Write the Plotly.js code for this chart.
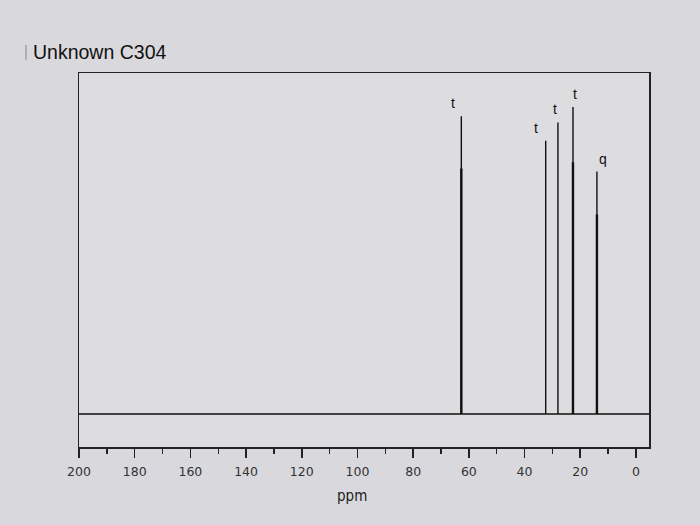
<!DOCTYPE html>
<html>
<head>
<meta charset="utf-8">
<script src="https://cdn.plot.ly/plotly-3.0.1.min.js"></script>
<style>html,body{margin:0;padding:0;background:#d9d9dd;}#chart{width:700px;height:525px;}</style>
</head>
<body>
<div id="chart"></div>
<script>
// Peak positions (ppm) and relative heights
const peakPpm = [62.7, 32.4, 28.0, 22.6, 14.0];
const peakHeights = [97, 89, 95, 100, 79];
const peakLabels = ["t", "t", "t", "t", "q"];
// Heavier lower portion of some peaks, as drawn in the picture
const thickPpm = [62.7, 22.6, 14.0];
const thickHeights = [80, 82, 65];
const tickVals = [200, 180, 160, 140, 120, 100, 80, 60, 40, 20, 0];
const tickText = ["200", "180", "160", "140", "120", "100", "80", "60", "40", "20", "0"];

const xStart = 200, xEnd = -4.7;

function stickSpectrum(ppm, h, withBase) {
  const xs = [], ys = [];
  if (withBase) { xs.push(xStart); ys.push(0); }
  for (let i = 0; i < ppm.length; i++) {
    xs.push(ppm[i], ppm[i], ppm[i]);
    ys.push(0, h[i], 0);
    if (!withBase) { xs.push(null); ys.push(null); }
  }
  if (withBase) { xs.push(xEnd); ys.push(0); }
  return {x: xs, y: ys};
}

const main = stickSpectrum(peakPpm, peakHeights, true);
const thick = stickSpectrum(thickPpm, thickHeights, false);

const traces = [
  {x: main.x, y: main.y, type: 'scatter', mode: 'lines',
   line: {color: '#111111', width: 1.4}, hoverinfo: 'skip'},
  {x: thick.x, y: thick.y, type: 'scatter', mode: 'lines',
   line: {color: '#111111', width: 2.4}, hoverinfo: 'skip', connectgaps: false}
];

const labelShift = [-8, -10, -3, 2, 6];
const annotations = peakPpm.map((p, i) => ({
  x: p, y: peakHeights[i], xref: 'x', yref: 'y', text: peakLabels[i],
  showarrow: false, yanchor: 'bottom', xanchor: 'center', yshift: 3, xshift: labelShift[i],
  font: {family: 'Liberation Sans, Arial, sans-serif', size: 14, color: '#111'}
}));
annotations.push({
  x: (xStart + 0) / 2 + 2, y: -0.13, xref: 'x', yref: 'paper', text: 'ppm',
  showarrow: false, yanchor: 'middle', xanchor: 'center',
  font: {family: 'DejaVu Sans Condensed, DejaVu Sans, sans-serif', size: 15, color: '#222'}
});

const layout = {
  width: 700, height: 525,
  paper_bgcolor: '#d9d9dd', plot_bgcolor: '#dddde0',
  margin: {l: 79, r: 51, t: 73, b: 78},
  showlegend: false,
  title: {text: 'Unknown C304', x: 33 / 700, xanchor: 'left', xref: 'container',
          y: 1 - 52 / 525, yanchor: 'middle', yref: 'container',
          font: {family: 'Liberation Sans, Arial, sans-serif', size: 19.5, color: '#111'}},
  xaxis: {range: [xStart, xEnd], showgrid: false, zeroline: false,
          showline: true, mirror: true, linecolor: '#222', linewidth: 1.5,
          ticks: 'outside', ticklen: 9, tickwidth: 1.5, tickcolor: '#222',
          tickvals: tickVals, ticktext: tickText, ticklabelstandoff: 3,
          minor: {dtick: 10, tick0: 0, ticks: 'outside', ticklen: 5, tickwidth: 1.3, tickcolor: '#222'},
          tickfont: {family: 'DejaVu Sans, sans-serif', size: 12.5, color: '#333'}},
  yaxis: {range: [-10.75, 111.1], showgrid: false, zeroline: false, showticklabels: false,
          ticks: '', showline: true, mirror: true, linecolor: '#222', linewidth: 1.5},
  annotations: annotations,
  shapes: [
    {type: 'line', xref: 'paper', yref: 'paper', x0: -0.093, x1: -0.093, y0: 1.035, y1: 1.075,
     line: {color: '#888', width: 1}}
  ]
};

Plotly.newPlot('chart', traces, layout, {displayModeBar: false, staticPlot: true});
</script>
</body>
</html>
